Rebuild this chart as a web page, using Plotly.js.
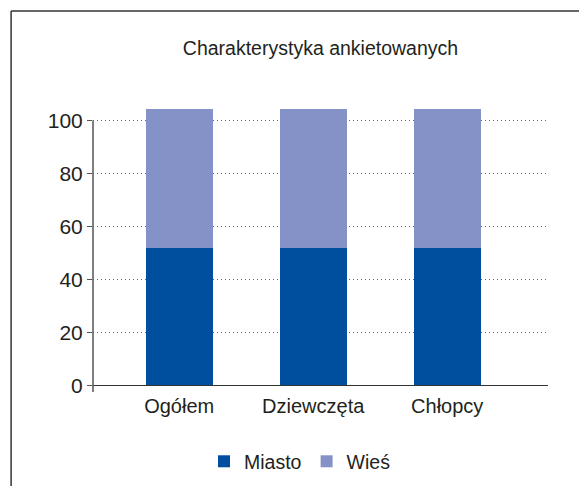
<!DOCTYPE html>
<html>
<head>
<meta charset="utf-8">
<script src="https://cdn.plot.ly/plotly-3.0.1.min.js"></script>
<style>
  html, body { margin: 0; padding: 0; background: #fff; }
  #chart { width: 579px; height: 486px; }
  #chart text { font-stretch: condensed; }
</style>
</head>
<body>
<div id="chart"></div>
<script>
// Data
const categories = ["Ogółem", "Dziewczęta", "Chłopcy"];
const miasto = [52, 52, 52];
const wies = [52.5, 52.5, 52.5];
const seriesNames = ["Miasto", "Wieś"];
const yTicks = [0, 20, 40, 60, 80, 100];
const chartTitle = "Charakterystyka ankietowanych";

const FONT = "'Liberation Sans Narrow', 'Liberation Sans', Arial, sans-serif";
const TEXT = "#231f20";

const traces = [
  { type: "bar", name: seriesNames[0], x: categories, y: miasto,
    marker: { color: "#004f9f", line: { width: 0 } }, width: 0.5, hoverinfo: "skip" },
  { type: "bar", name: seriesNames[1], x: categories, y: wies,
    marker: { color: "#8592c8", line: { width: 0 } }, width: 0.5, hoverinfo: "skip" }
];

const layout = {
  width: 579, height: 486,
  margin: { l: 93, r: 31, t: 102, b: 94, autoexpand: false },
  paper_bgcolor: "#fff", plot_bgcolor: "#fff",
  barmode: "stack",
  font: { family: FONT, color: TEXT, size: 20 },
  title: { text: chartTitle, font: { family: FONT, size: 19.5, color: TEXT },
           x: 0.5, xref: "paper", xanchor: "center", y: 0.9, yref: "container", yanchor: "middle",
           automargin: false },
  showlegend: true,
  legend: { orientation: "h", x: 0.455, xanchor: "center", y: -0.24, yanchor: "middle",
            font: { family: FONT, size: 19.5, color: TEXT }, itemclick: false, traceorder: "normal" },
  xaxis: {
    type: "category", range: [-0.643, 2.752], fixedrange: true, automargin: false,
    showline: false, showgrid: false, zeroline: false, ticks: "",
    tickfont: { family: FONT, size: 20, color: TEXT }
  },
  yaxis: {
    range: [-2.5, 107], fixedrange: true, automargin: false,
    tickvals: yTicks, ticktext: yTicks.map(String),
    ticks: "outside", ticklen: 5, tickwidth: 1.5, tickcolor: "#555",
    showline: false,
    showgrid: true, gridcolor: "#666", gridwidth: 1, griddash: "1px,3px",
    zeroline: true, zerolinecolor: "#333", zerolinewidth: 1.5,
    tickfont: { family: FONT, size: 21, color: TEXT }
  },
  shapes: [
    // y axis line
    { type: "line", xref: "paper", yref: "y", x0: 0, x1: 0, y0: -2.5, y1: 100,
      line: { color: "#555", width: 1.5 }, layer: "above" },
    // outer frame (top and left edges)
    { type: "line", xref: "paper", yref: "paper", x0: -0.18, x1: 1.2, y0: 1.314, y1: 1.314,
      line: { color: "#333", width: 1.5 } },
    { type: "line", xref: "paper", yref: "paper", x0: -0.18, x1: -0.18, y0: 1.314, y1: -0.4,
      line: { color: "#333", width: 1.5 } }
  ]
};

Plotly.newPlot("chart", traces, layout, { staticPlot: true, displayModeBar: false });
</script>
</body>
</html>
